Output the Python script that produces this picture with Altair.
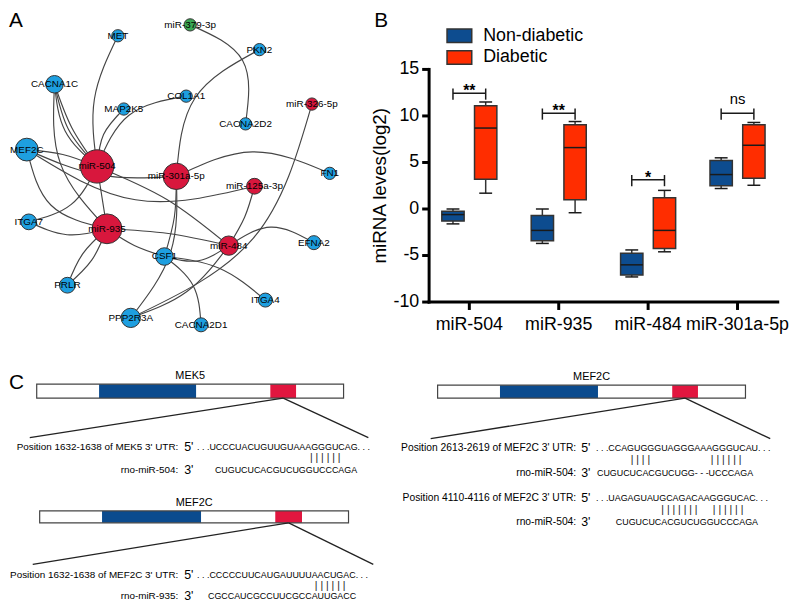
import altair as alt
import pandas as pd

FONT = "Liberation Sans, Arial, Helvetica, sans-serif"

# ---------------- Panel A : interaction network ----------------
node_names = ["MET", "miR-379-3p", "PKN2", "CACNA1C", "COL1A1", "MAP2K5", "miR-326-5p",
              "CACNA2D2", "MEF2C", "miR-504", "miR-301a-5p", "FN1", "miR-125a-3p", "ITGA7",
              "miR-935", "miR-484", "EFNA2", "CSF1", "PRLR", "ITGA4", "PPP2R3A", "CACNA2D1"]
node_x = [119, 192, 262, 55, 188, 125, 315, 248, 27, 98, 178, 333, 257, 29, 108, 231, 317, 166, 68, 268, 132, 203]
node_y = [33, 22, 47, 82, 94, 107, 102, 122, 148, 165, 175, 172, 185, 221, 228, 245, 242, 256, 285, 300, 318, 325]
node_r = [7, 7, 7, 10, 7, 7, 7, 7, 13, 19, 15, 7, 9, 9, 17, 11, 8, 10, 9, 8, 11, 8]
node_type = ["gene", "miR-down", "gene", "gene", "gene", "gene", "miR-up", "gene", "gene", "miR-up",
             "miR-up", "gene", "miR-up", "gene", "miR-up", "miR-up", "gene", "gene", "gene", "gene",
             "gene", "gene"]
type_names = ["gene", "miR-up", "miR-down"]
type_colors = ["#1e9fe0", "#d8173d", "#3aa853"]

edge_from = ["MET", "CACNA1C", "CACNA1C", "CACNA1C", "CACNA1C", "MAP2K5", "COL1A1", "miR-379-3p",
             "PKN2", "miR-326-5p", "MEF2C", "MEF2C", "MEF2C", "MEF2C", "miR-301a-5p", "miR-301a-5p",
             "miR-301a-5p", "miR-504", "miR-504", "miR-504", "ITGA7", "miR-935", "miR-935", "miR-935",
             "miR-935", "miR-484", "miR-484", "miR-484", "miR-125a-3p", "CSF1", "CSF1"]
edge_to = ["miR-504", "miR-504", "miR-504", "miR-504", "miR-935", "miR-504", "miR-504", "CACNA2D2",
           "miR-301a-5p", "PPP2R3A", "miR-504", "miR-301a-5p", "miR-125a-3p", "miR-935", "FN1", "CSF1",
           "PPP2R3A", "ITGA7", "miR-935", "miR-484", "miR-935", "PRLR", "PRLR", "CSF1",
           "miR-484", "EFNA2", "CSF1", "PPP2R3A", "miR-484", "ITGA4", "CACNA2D1"]
edge_bend = [0.10, 0.05, 0.09, 0.13, 0.14, 0.12, 0.18, -0.25,
             0.18, -0.15, -0.05, 0.08, 0.14, 0.20, -0.15, -0.05,
             -0.12, -0.15, 0.0, -0.05, 0.12, 0.08, -0.08, 0.05,
             -0.03, -0.20, -0.15, -0.10, -0.05, -0.10, -0.15]

# ---------------- Panel B : miRNA levels ----------------
genes = ["miR-504", "miR-935", "miR-484", "miR-301a-5p"]
groups = ["Non-diabetic", "Diabetic"]
group_colors = ["#0d4c8f", "#ff2d00"]
nd_lo = [-1.6, -3.7, -7.3, 2.2]
nd_q1 = [-1.3, -3.4, -7.1, 2.5]
nd_med = [-0.6, -2.3, -6.0, 3.7]
nd_q3 = [-0.25, -0.7, -4.75, 5.2]
nd_hi = [0.0, 0.0, -4.4, 5.5]
d_lo = [1.7, -0.4, -4.6, 2.55]
d_q1 = [3.2, 1.0, -4.25, 3.3]
d_med = [8.7, 6.6, -2.3, 6.85]
d_q3 = [11.1, 9.05, 1.2, 9.05]
d_hi = [11.5, 9.4, 2.0, 9.3]
sig_y = [12.45, 10.3, 3.15, 10.3]
sig_text = ["**", "**", "*", "ns"]
y_ticks = [-10, -5, 0, 5, 10, 15]
y_tick_labels = ["-10", "-5", "0", "5", "10", "15"]
y_title = "miRNA leves(log2)"

# ---------------- Panel C : binding sites ----------------
bar_genes = ["MEK5", "MEF2C", "MEF2C"]
bar_x0 = [37, 40, 442]
bar_x1 = [347, 352, 753]
bar_y0 = [385, 513, 386]
bar_y1 = [399, 525, 399]
cds_x0 = [100, 103, 505]
cds_x1 = [198, 203, 604]
site_x0 = [273, 278, 679]
site_x1 = [299, 305, 705]
zoom_left = [30, 33, 435]
zoom_right = [372, 377, 778]
zoom_y = [439, 567, 440]

align_labels = ["Position 1632-1638 of MEK5 3' UTR:", "rno-miR-504:",
                "Position 1632-1638 of MEF2C 3' UTR:", "rno-miR-935:",
                "Position 2613-2619 of MEF2C 3' UTR:", "rno-miR-504:",
                "Position 4110-4116 of MEF2C 3' UTR:", "rno-miR-504:"]
align_side = ["left", "left", "left", "left", "right", "right", "right", "right"]
align_ends = ["5'", "3'", "5'", "3'", "5'", "3'", "5'", "3'"]
align_seqs = [". . .UCCCUACUGUUGUAAAGGGUCAG. . .", "CUGUCUCACGUCUGGUCCCAGA",
              ". . .CCCCCUUCAUGAUUUUAACUGAC. . .", "CGCCAUCGCCUUCGCCAUUGACC",
              ". . .CCAGUGGGUAGGGAAAGGGUCAU. . .", "CUGUCUCACGUCUGG- - -UCCCAGA",
              ". . .UAGAGUAUGCAGACAAGGGUCAC. . .", "CUGUCUCACGUCUGGUCCCAGA"]
label_right = [180, 180, 180, 180, 582, 582, 582, 582]
end_left = [186, 186, 186, 186, 587, 587, 587, 587]
seq_left = [199, 217, 199, 210, 602, 603, 602, 622]
row_y = [448, 472, 578, 599, 449, 475, 500, 524]
pair_str = ["| | | | | |", "| | | | | |", "| | | |", "| | | | | |", "| | | | | | |", "| | | | | |"]
pair_x = [313, 318, 637, 718, 668, 720]
pair_y = [460, 589, 462, 462, 512, 512]

panel_letters = ["A", "B", "C"]
letter_x = [9, 378, 9]
letter_y = [24, 24, 390]

# ================= build tables =================
W, H = 792, 598
px = alt.Scale(domain=[8, 8 + W], range=[0, W], nice=False, zero=False)
py = alt.Scale(domain=[8, 8 + H], range=[0, H], nice=False, zero=False)


def X(f):
    return alt.X(f, type="quantitative", scale=px, axis=None)


def Y(f):
    return alt.Y(f, type="quantitative", scale=py, axis=None)


color_of = dict(zip(type_names, type_colors))
nodes = pd.DataFrame({"name": node_names, "x": node_x, "y": node_y, "r": node_r,
                      "col": [color_of[t] for t in node_type]})
nodes["area"] = 3.14159 * nodes["r"] ** 2
pos = {n: (x, y) for n, x, y in zip(node_names, node_x, node_y)}

erows = []
for i, (a, b, c) in enumerate(zip(edge_from, edge_to, edge_bend)):
    (x0, y0), (x2, y2) = pos[a], pos[b]
    dx, dy = x2 - x0, y2 - y0
    mx = (x0 + x2) / 2 - c * dy
    my = (y0 + y2) / 2 + c * dx
    for k, (xx, yy) in enumerate([(x0, y0), (mx, my), (x2, y2)]):
        erows.append({"edge": i, "k": k, "x": xx, "y": yy})
edges = pd.DataFrame(erows)

edge_layer = alt.Chart(edges).mark_line(color="#454545", strokeWidth=1.15, interpolate="natural").encode(
    x=X("x"), y=Y("y"), detail="edge:N", order="k:Q")
node_layer = alt.Chart(nodes).mark_circle(opacity=1, stroke="#333333", strokeWidth=1).encode(
    x=X("x"), y=Y("y"), size=alt.Size("area:Q", scale=None), color=alt.Color("col:N", scale=None))
node_text = alt.Chart(nodes).mark_text(font=FONT, fontSize=10, color="black").encode(
    x=X("x"), y=Y("y"), text="name:N")

letters = pd.DataFrame({"t": panel_letters, "x": letter_x, "y": letter_y})
letter_layer = alt.Chart(letters).mark_text(font=FONT, fontSize=21, color="black", align="left",
                                            baseline="alphabetic").encode(x=X("x"), y=Y("y"), text="t:N")

bars = pd.DataFrame({"g": bar_genes, "x0": bar_x0, "x1": bar_x1, "y0": bar_y0, "y1": bar_y1,
                     "c0": cds_x0, "c1": cds_x1, "s0": site_x0, "s1": site_x1,
                     "zl": zoom_left, "zr": zoom_right, "zy": zoom_y})
bars["sc"] = (bars["s0"] + bars["s1"]) / 2
bars["xm"] = (bars["x0"] + bars["x1"]) / 2
bars["ly"] = bars["y0"] - 3

bar_bg = alt.Chart(bars).mark_rect(fill="white").encode(x=X("x0"), x2="x1", y=Y("y0"), y2="y1")
cds = alt.Chart(bars).mark_rect(fill="#0b4b8e").encode(x=X("c0"), x2="c1", y=Y("y0"), y2="y1")
site = alt.Chart(bars).mark_rect(fill="#e1163f").encode(x=X("s0"), x2="s1", y=Y("y0"), y2="y1")
bar_outline = alt.Chart(bars).mark_rect(fillOpacity=0, stroke="#444444", strokeWidth=1.2).encode(
    x=X("x0"), x2="x1", y=Y("y0"), y2="y1")
zl = alt.Chart(bars).mark_rule(color="#222222", strokeWidth=1.3).encode(
    x=X("sc"), y=Y("y1"), x2="zl", y2="zy")
zr = alt.Chart(bars).mark_rule(color="#222222", strokeWidth=1.3).encode(
    x=X("sc"), y=Y("y1"), x2="zr", y2="zy")
gene_lab = alt.Chart(bars).mark_text(font=FONT, fontSize=11, color="black", baseline="bottom").encode(
    x=X("xm"), y=Y("ly"), text="g:N")

rows = pd.DataFrame({"lab": align_labels, "side": align_side, "end": align_ends, "seq": align_seqs,
                     "lx": label_right, "ex": end_left, "sx": seq_left, "y": row_y})
rows["fs"] = rows["side"].map({"left": 10.0, "right": 10.4})
row_lab = alt.Chart(rows).mark_text(font=FONT, color="black", align="right",
                                    baseline="middle").encode(
    x=X("lx"), y=Y("y"), text="lab:N", size=alt.Size("fs:Q", scale=None))
row_end = alt.Chart(rows).mark_text(font=FONT, fontSize=12.5, color="black", align="left",
                                    baseline="middle").encode(x=X("ex"), y=Y("y"), text="end:N")
row_seq = alt.Chart(rows).mark_text(font=FONT, fontSize=9, color="black", align="left",
                                    baseline="middle").encode(x=X("sx"), y=Y("y"), text="seq:N")
pairs = pd.DataFrame({"s": pair_str, "x": pair_x, "y": pair_y})
pair_layer = alt.Chart(pairs).mark_text(font=FONT, fontSize=10.5, color="#222222", align="left",
                                        baseline="middle").encode(x=X("x"), y=Y("y"), text="s:N")

pixel_chart = alt.layer(edge_layer, node_layer, node_text, letter_layer,
                        bar_bg, cds, site, bar_outline, zl, zr, gene_lab,
                        row_lab, row_end, row_seq, pair_layer)

# ---- Panel B ----
half_gap = 0.183
box_half = 0.125
cap_half = 0.072
brows = []
for i, g in enumerate(genes):
    for grp, sgn, lo, q1, med, q3, hi in [
        (groups[0], -1, nd_lo[i], nd_q1[i], nd_med[i], nd_q3[i], nd_hi[i]),
        (groups[1], 1, d_lo[i], d_q1[i], d_med[i], d_q3[i], d_hi[i])]:
        xc = i + sgn * half_gap
        brows.append({"gene": g, "group": grp, "xc": xc, "xl": xc - box_half, "xr": xc + box_half,
                      "cl": xc - cap_half, "cr": xc + cap_half,
                      "lo": lo, "q1": q1, "med": med, "q3": q3, "hi": hi})
bx = pd.DataFrame(brows)
sig = pd.DataFrame({"i": list(range(len(genes))), "yb": sig_y, "t": sig_text})
sig["xl"] = sig["i"] - half_gap
sig["xr"] = sig["i"] + half_gap
sig["ytop"] = sig["yb"] + 0.5
sig["ybot"] = sig["yb"] - 0.7

X0, X1 = 425.4, 777.6
YB, YT = 294, 59
XMIN, XMAX = -0.45, 3.45
YMIN, YMAX = y_ticks[0], y_ticks[-1]
xs = alt.Scale(domain=[XMIN, XMAX], range=[X0, X1], nice=False, zero=False)
ys = alt.Scale(domain=[YMIN, YMAX], range=[YB, YT], nice=False, zero=False)


def BX(f):
    return alt.X(f, type="quantitative", scale=xs, axis=None)


def BY(f):
    return alt.Y(f, type="quantitative", scale=ys, axis=None)


# axes drawn through the panel-B scales
yax = pd.DataFrame({"v": y_ticks, "lab": y_tick_labels, "x": XMIN})
xax = pd.DataFrame({"i": list(range(len(genes))), "lab": genes, "y": YMIN})
dom = pd.DataFrame({"x0": [XMIN], "x1": [XMAX], "y0": [YMIN], "y1": [YMAX], "t": [y_title],
                    "ym": [(YMIN + YMAX) / 2]})

y_dom = alt.Chart(dom).mark_rule(color="black", strokeWidth=3, strokeCap="square").encode(
    x=BX("x0"), y=BY("y0"), y2="y1")
x_dom = alt.Chart(dom).mark_rule(color="black", strokeWidth=3, strokeCap="square").encode(
    x=BX("x0"), x2="x1", y=BY("y0"))
y_tk = alt.Chart(yax).mark_rule(color="black", strokeWidth=3, x2Offset=-7).encode(
    x=BX("x"), x2="x", y=BY("v"))
y_lb = alt.Chart(yax).mark_text(font=FONT, fontSize=18, color="black", align="right",
                                baseline="middle", dx=-10).encode(x=BX("x"), y=BY("v"), text="lab:N")
x_tk = alt.Chart(xax).mark_rule(color="black", strokeWidth=3, y2Offset=8).encode(
    x=BX("i"), y=BY("y"), y2="y")
x_lb = alt.Chart(xax).mark_text(font=FONT, fontSize=18, color="black", align="center",
                                baseline="alphabetic", dy=28).encode(x=BX("i"), y=BY("y"), text="lab:N")
y_tt = alt.Chart(dom).mark_text(font=FONT, fontSize=19, color="black", angle=270, align="center",
                                baseline="middle", xOffset=-50).encode(x=BX("x0"), y=BY("ym"), text="t:N")

whisk = alt.Chart(bx).mark_rule(color="#333333", strokeWidth=1.5).encode(
    x=BX("xc"), y=BY("lo"), y2="hi")
boxes = alt.Chart(bx).mark_rect(stroke="#333333", strokeWidth=1.5).encode(
    x=BX("xl"), x2="xr", y=BY("q1"), y2="q3",
    color=alt.Color("group:N", scale=alt.Scale(domain=groups, range=group_colors),
                    legend=alt.Legend(orient="none", legendX=447, legendY=16, title=None,
                                      symbolType="M-2,-1.1L2,-1.1L2,1.1L-2,1.1Z",
                                      symbolSize=156, symbolStrokeColor="#333333",
                                      symbolStrokeWidth=1.5, labelFont=FONT, labelFontSize=18,
                                      labelColor="black", labelOffset=15, rowPadding=2,
                                      padding=0)))
med = alt.Chart(bx).mark_rule(color="#1a1a1a", strokeWidth=1.5).encode(
    x=BX("xl"), x2="xr", y=BY("med"))
cap_lo = alt.Chart(bx).mark_rule(color="#1a1a1a", strokeWidth=1.5).encode(
    x=BX("cl"), x2="cr", y=BY("lo"))
cap_hi = alt.Chart(bx).mark_rule(color="#1a1a1a", strokeWidth=1.5).encode(
    x=BX("cl"), x2="cr", y=BY("hi"))
br_h = alt.Chart(sig).mark_rule(color="#1a1a1a", strokeWidth=1.5).encode(
    x=BX("xl"), x2="xr", y=BY("yb"))
br_l = alt.Chart(sig).mark_rule(color="#1a1a1a", strokeWidth=1.5).encode(
    x=BX("xl"), y=BY("ybot"), y2="ytop")
br_r = alt.Chart(sig).mark_rule(color="#1a1a1a", strokeWidth=1.5).encode(
    x=BX("xr"), y=BY("ybot"), y2="ytop")
stars = alt.Chart(sig).transform_filter("datum.t != 'ns'").mark_text(
    font=FONT, fontSize=16, fontWeight="bold", color="black", baseline="alphabetic", dy=3).encode(
    x=BX("i"), y=BY("yb"), text="t:N")
ns = alt.Chart(sig).transform_filter("datum.t == 'ns'").mark_text(
    font=FONT, fontSize=15, color="black", baseline="alphabetic", dy=-9).encode(
    x=BX("i"), y=BY("yb"), text="t:N")

box_chart = alt.layer(y_dom, x_dom, y_tk, y_lb, x_tk, x_lb, y_tt,
                      whisk, boxes, med, cap_lo, cap_hi, br_h, br_l, br_r, stars, ns)

chart = alt.layer(pixel_chart, box_chart).resolve_scale(
    x="independent", y="independent", color="independent"
).properties(width=W, height=H, padding=0, autosize=alt.AutoSizeParams(type="none")
).configure_view(stroke=None)

chart.save("out.html", embed_options={"renderer": "svg", "actions": False})
